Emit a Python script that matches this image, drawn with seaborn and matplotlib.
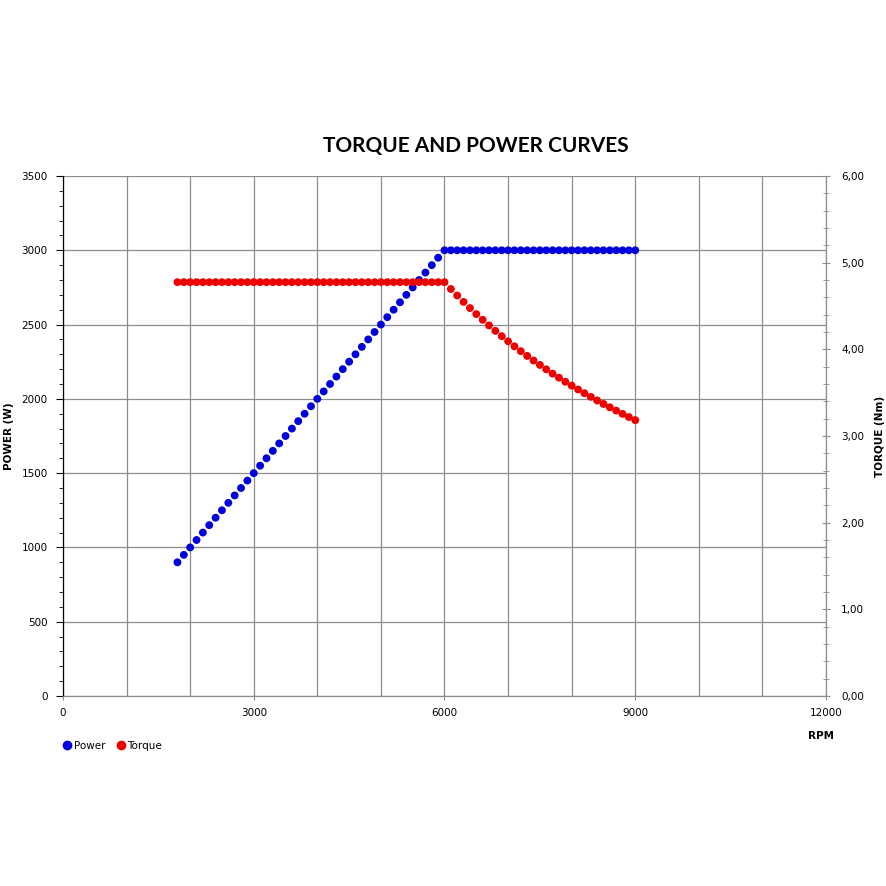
import numpy as np
import pandas as pd
import seaborn as sns
import matplotlib.pyplot as plt
from matplotlib.ticker import MultipleLocator, FuncFormatter
from matplotlib.lines import Line2D

rpm = [1800, 1900, 2000, 2100, 2200, 2300, 2400, 2500, 2600, 2700,
       2800, 2900, 3000, 3100, 3200, 3300, 3400, 3500, 3600, 3700,
       3800, 3900, 4000, 4100, 4200, 4300, 4400, 4500, 4600, 4700,
       4800, 4900, 5000, 5100, 5200, 5300, 5400, 5500, 5600, 5700,
       5800, 5900, 6000, 6100, 6200, 6300, 6400, 6500, 6600, 6700,
       6800, 6900, 7000, 7100, 7200, 7300, 7400, 7500, 7600, 7700,
       7800, 7900, 8000, 8100, 8200, 8300, 8400, 8500, 8600, 8700,
       8800, 8900, 9000]

power = [900, 950, 1000, 1050, 1100, 1150, 1200, 1250, 1300, 1350,
         1400, 1450, 1500, 1550, 1600, 1650, 1700, 1750, 1800, 1850,
         1900, 1950, 2000, 2050, 2100, 2150, 2200, 2250, 2300, 2350,
         2400, 2450, 2500, 2550, 2600, 2650, 2700, 2750, 2800, 2850,
         2900, 2950, 3000, 3000, 3000, 3000, 3000, 3000, 3000, 3000,
         3000, 3000, 3000, 3000, 3000, 3000, 3000, 3000, 3000, 3000,
         3000, 3000, 3000, 3000, 3000, 3000, 3000, 3000, 3000, 3000,
         3000, 3000, 3000]

torque = [4.775, 4.775, 4.775, 4.775, 4.775, 4.775, 4.775, 4.775, 4.775, 4.775,
          4.775, 4.775, 4.775, 4.775, 4.775, 4.775, 4.775, 4.775, 4.775, 4.775,
          4.775, 4.775, 4.775, 4.775, 4.775, 4.775, 4.775, 4.775, 4.775, 4.775,
          4.775, 4.775, 4.775, 4.775, 4.775, 4.775, 4.775, 4.775, 4.775, 4.775,
          4.775, 4.775, 4.775, 4.696, 4.621, 4.547, 4.476, 4.407, 4.341, 4.276,
          4.213, 4.152, 4.093, 4.035, 3.979, 3.924, 3.871, 3.820, 3.769, 3.720,
          3.673, 3.626, 3.581, 3.537, 3.494, 3.452, 3.410, 3.370, 3.331, 3.293,
          3.255, 3.219, 3.183]

df = pd.DataFrame({'rpm': rpm, 'power': power, 'torque': torque})

blue = '#0000dd'
red = '#ee0000'
grid_c = '#8c8c8c'

sns.set_style('white')
plt.rcParams['font.family'] = ['DejaVu Sans']
plt.rcParams['text.color'] = 'black'
plt.rcParams['axes.labelcolor'] = 'black'

fig = plt.figure(figsize=(8.86, 8.86), dpi=100)
ax = fig.add_axes([63 / 886, 190 / 886, 763 / 886, 520 / 886])
ax2 = ax.twinx()

sns.scatterplot(data=df, x='rpm', y='power', ax=ax, color=blue, s=32,
                edgecolor='none', zorder=3, legend=False)
sns.scatterplot(data=df, x='rpm', y='torque', ax=ax2, color=red, s=32,
                edgecolor='none', zorder=3, legend=False)

ax.set_xlim(0, 12000)
ax.set_ylim(0, 3500)
ax2.set_ylim(0, 6)

ax.xaxis.set_major_locator(MultipleLocator(3000))
ax.xaxis.set_minor_locator(MultipleLocator(1000))
ax.yaxis.set_major_locator(MultipleLocator(500))
ax.yaxis.set_minor_locator(MultipleLocator(100))
ax2.yaxis.set_major_locator(MultipleLocator(1))
ax2.yaxis.set_minor_locator(MultipleLocator(0.2))
ax2.yaxis.set_major_formatter(FuncFormatter(lambda v, p: f'{v:.2f}'.replace('.', ',')))

ax.grid(True, which='major', axis='y', color=grid_c, lw=0.9)
ax.grid(True, which='both', axis='x', color=grid_c, lw=0.9)
ax.set_axisbelow(True)

for a in (ax, ax2):
    a.spines['top'].set_visible(False)
    a.spines['left'].set_color('black')
    a.spines['right'].set_color(grid_c)
    a.spines['bottom'].set_color(grid_c)

ax.tick_params(axis='y', which='major', direction='out', length=5, color='black',
               labelsize=7.5, labelcolor='black', pad=6, left=True)
ax.tick_params(axis='y', which='minor', direction='out', length=3, color='black', left=True)
ax.tick_params(axis='x', which='major', direction='inout', length=6, color=grid_c,
               labelsize=7.5, labelcolor='black', pad=6, bottom=True)
ax.tick_params(axis='x', which='minor', length=0)
ax2.tick_params(axis='y', which='major', direction='inout', length=6, color=grid_c,
                labelsize=7.5, labelcolor='black', pad=8, right=True)
ax2.tick_params(axis='y', which='minor', direction='inout', length=5, color=grid_c, right=True)

ax.set_xlabel('')
ax.set_ylabel('POWER (W)', fontsize=7.5, fontweight='bold')
ax.yaxis.set_label_coords((14 - 63) / 763, 0.5)
ax2.set_ylabel('TORQUE (Nm)', fontsize=7.5, fontweight='bold')
ax2.yaxis.set_label_coords((875 - 63) / 763, 0.5)
fig.text(821 / 886, 1 - 736 / 886, 'RPM', fontsize=7.5, fontweight='bold',
         ha='center', va='center')

fig.suptitle('TORQUE AND POWER CURVES', x=476 / 886, y=1 - 146 / 886,
             fontsize=15, fontweight='bold', family='Lato', va='center', color='black')

handles = [Line2D([], [], ls='none', marker='o', color=blue, markersize=6, label='Power'),
           Line2D([], [], ls='none', marker='o', color=red, markersize=6, label='Torque')]
fig.legend(handles=handles, loc='center left', bbox_to_anchor=(58 / 886, 1 - 746 / 886),
           ncol=2, frameon=False, fontsize=7.5, handletextpad=0.1, columnspacing=1.0,
           handlelength=1.0, borderaxespad=0)

fig.savefig('out.png', dpi=100, facecolor='white')
